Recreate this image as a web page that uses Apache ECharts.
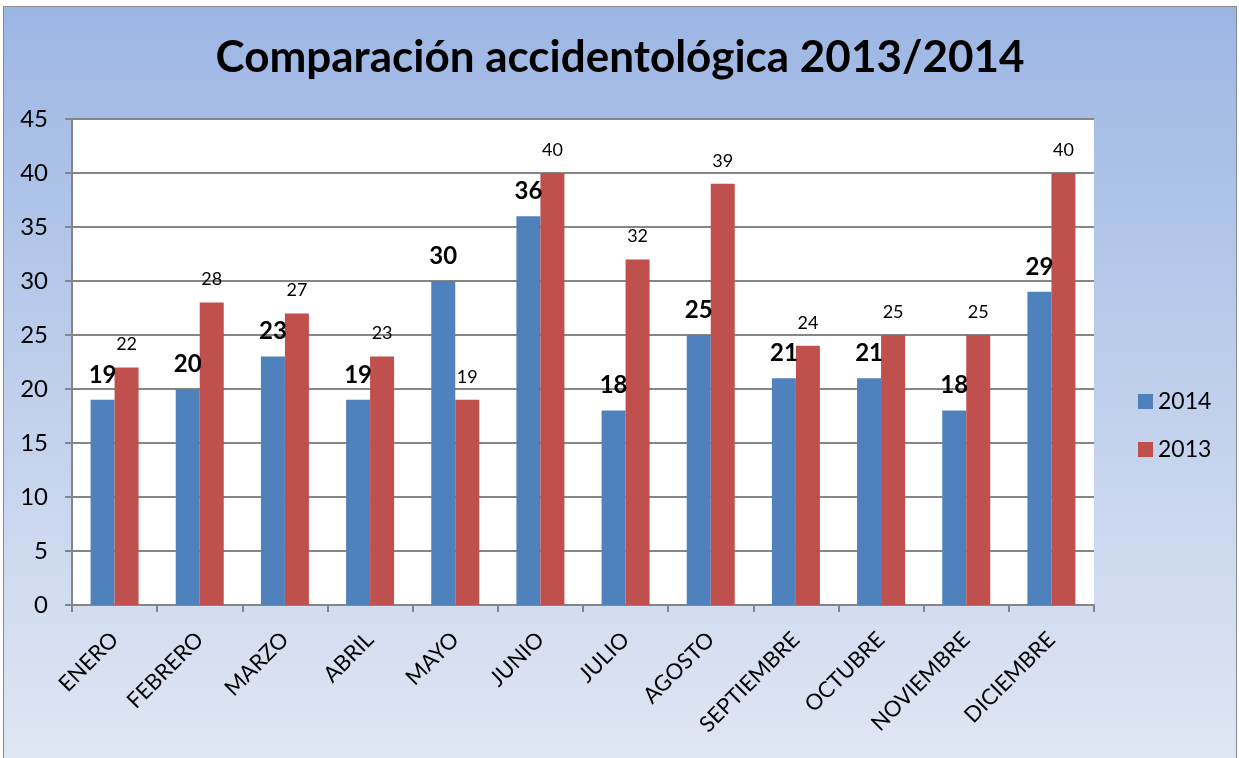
<!DOCTYPE html>
<html>
<head>
<meta charset="utf-8">
<script src="https://cdn.jsdelivr.net/npm/echarts@6/dist/echarts.min.js"></script>
<style>
  html, body { margin: 0; padding: 0; background: #fff; overflow: hidden; }
  #frame {
    position: absolute; left: 3px; top: 6px;
    width: 1232px; height: 760px;
    border: 1px solid #8a8a8a;
    background: linear-gradient(to bottom, #9cb6e4 0%, #bccdeb 45%, #e0e7f4 100%);
  }
  #chart { width: 1232px; height: 751px; }
</style>
</head>
<body>
<div id="frame"><div id="chart"></div></div>
<script>
const months = ['ENERO', 'FEBRERO', 'MARZO', 'ABRIL', 'MAYO', 'JUNIO', 'JULIO',
    'AGOSTO', 'SEPTIEMBRE', 'OCTUBRE', 'NOVIEMBRE', 'DICIEMBRE'];
const values2014 = [19, 20, 23, 19, 30, 36, 18, 25, 21, 21, 18, 29];
const values2013 = [22, 28, 27, 23, 19, 40, 32, 39, 24, 25, 25, 40];
const font = 'Lato, "Open Sans", sans-serif';

let myChart = echarts.init(document.getElementById('chart'));

let option = {
    backgroundColor: 'transparent',
    textStyle: { fontFamily: font },
    title: {
        text: 'Comparación accidentológica 2013/2014',
        left: 'center',
        top: 24,
        textStyle: { fontSize: 44, fontWeight: 'bold', color: '#000', fontFamily: font }
    },
    legend: {
        orient: 'vertical',
        left: 1129,
        top: 378,
        itemWidth: 15,
        itemHeight: 15,
        itemGap: 25,
        icon: 'rect',
        textStyle: { fontSize: 23, color: '#000', fontFamily: font },
        data: ['2014', '2013']
    },
    grid: {
        left: 68,
        top: 112,
        right: 142,
        bottom: 153,
        show: true,
        backgroundColor: '#fff',
        borderWidth: 0
    },
    xAxis: {
        type: 'category',
        data: months,
        axisLine: { lineStyle: { color: '#868686', width: 2 } },
        axisTick: { show: true, length: 7, alignWithLabel: false, lineStyle: { color: '#868686', width: 2 } },
        axisLabel: {
            rotate: 45,
            interval: 0,
            margin: 31,
            fontSize: 22,
            color: '#000',
            fontFamily: font
        }
    },
    yAxis: {
        type: 'value',
        min: 0,
        max: 45,
        interval: 5,
        axisLine: { show: true, lineStyle: { color: '#868686', width: 2 } },
        axisTick: { show: true, length: 7, lineStyle: { color: '#868686', width: 2 } },
        axisLabel: { fontSize: 24, color: '#000', margin: 24, fontFamily: font },
        splitLine: { lineStyle: { color: '#868686', width: 2 } }
    },
    series: [
        {
            name: '2014',
            type: 'bar',
            data: values2014,
            barWidth: 24,
            barGap: '0%',
            itemStyle: { color: '#4f81bd' },
            label: {
                show: true,
                position: 'top',
                distance: 13,
                fontSize: 24,
                fontWeight: 'bold',
                color: '#000',
                fontFamily: font
            }
        },
        {
            name: '2013',
            type: 'bar',
            data: values2013,
            barWidth: 24,
            itemStyle: { color: '#c0504d' },
            label: {
                show: true,
                position: 'top',
                distance: 14,
                fontSize: 18,
                color: '#000',
                fontFamily: font
            }
        }
    ]
};

myChart.setOption(option);
</script>
</body>
</html>
